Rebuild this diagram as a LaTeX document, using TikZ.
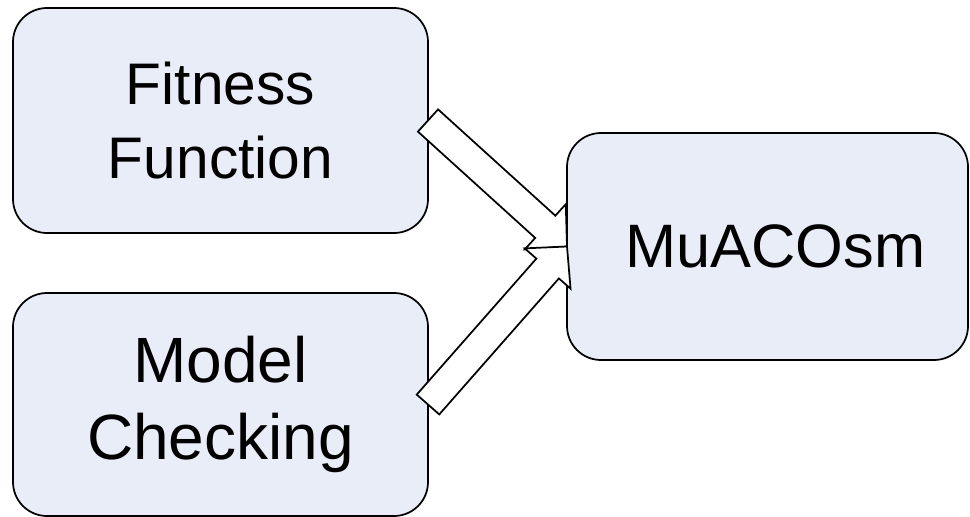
\documentclass[tikz,border=0pt]{standalone}
\usepackage{fontspec}
\setmainfont{Liberation Sans}
\usetikzlibrary{calc}
\definecolor{boxfill}{RGB}{232,237,247}
% hollow block arrow from #1 to #2; #3 names its head base point
\newcommand\blockarrow[3]{%
  \coordinate (#3-h) at ($(#2)!22pt!(#1)$);
  \draw[blockarrow]
    ($(#1)!11.25pt!90:(#2)$) -- ($(#3-h)!11.25pt!90:(#2)$) --
    ($(#3-h)!22.9pt!90:(#2)$) -- (#2) --
    ($(#3-h)!22.9pt!-90:(#2)$) -- ($(#3-h)!11.25pt!-90:(#2)$) --
    ($(#1)!11.25pt!-90:(#2)$) -- cycle;
}
\begin{document}
\begin{tikzpicture}[x=0.75pt,y=-0.75pt,
  roundbox/.style={draw=black, line width=1.3pt, fill=boxfill,
    rounded corners=25.5pt, inner sep=0pt, align=center, outer sep=0pt},
  blockarrow/.style={draw=black, line width=1.3pt, fill=white, line join=miter}]
\useasboundingbox (0,0) rectangle (970,517);
\fill[white] (0,0) rectangle (970,517);

\node[roundbox, minimum width=311.25pt, minimum height=168.75pt,
  font=\fontsize{44}{55.5}\selectfont] (fitness) at (220.5,120.5) {Fitness\\Function};
\node[roundbox, minimum width=311.25pt, minimum height=167.25pt,
  font=\fontsize{48}{57.75}\selectfont] (model) at (220.5,404.5) {Model\\Checking};
\node[roundbox, minimum width=300.75pt, minimum height=170.25pt,
  font=\fontsize{46}{55}\selectfont] (muaco) at (767.5,246.5) {\hspace*{12pt}MuACOsm};

\blockarrow{fitness.east}{muaco.west}{a1}
\blockarrow{model.east}{muaco.west}{a2}
\end{tikzpicture}
\end{document}
